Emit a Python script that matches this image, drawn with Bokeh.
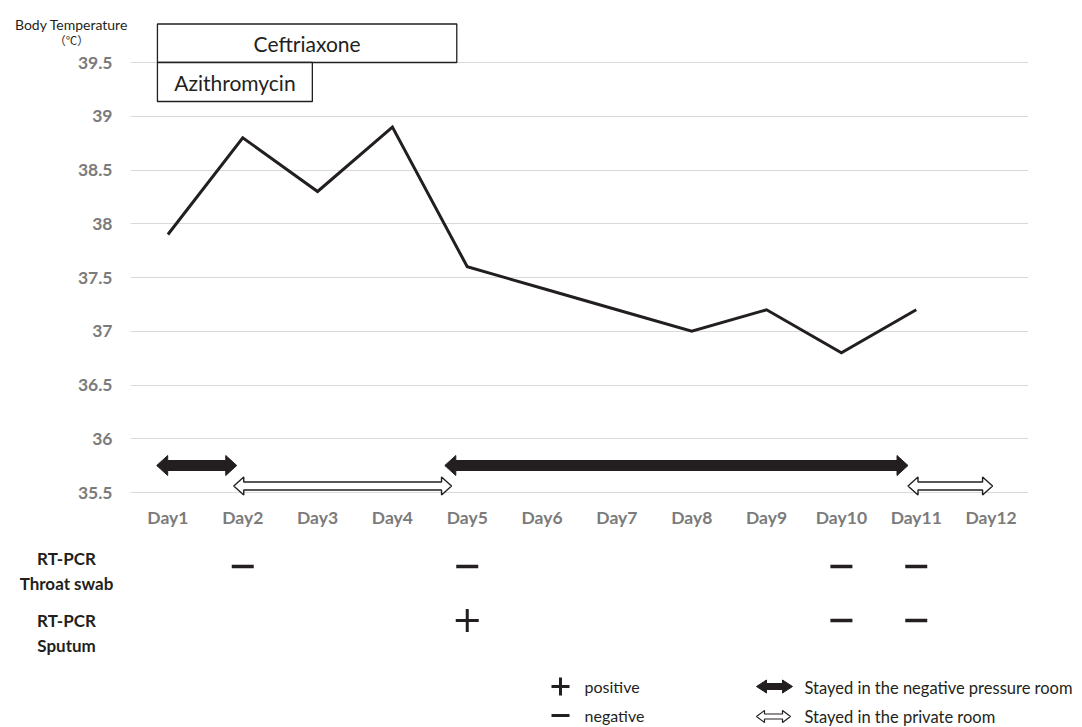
from bokeh.plotting import figure
from bokeh.models import Range1d, FixedTicker, Label
from bokeh.core.properties import value
from bokeh.embed import file_html
from bokeh.resources import INLINE

# ---------------- data ----------------
days = ["Day1", "Day2", "Day3", "Day4", "Day5", "Day6", "Day7", "Day8",
        "Day9", "Day10", "Day11", "Day12"]
temp_days = ["Day1", "Day2", "Day3", "Day4", "Day5", "Day6", "Day7", "Day8",
             "Day9", "Day10", "Day11"]
temperature = [37.9, 38.8, 38.3, 38.9, 37.6, 37.4, 37.2, 37.0, 37.2, 36.8, 37.2]

y_ticks = [35.5, 36.0, 36.5, 37.0, 37.5, 38.0, 38.5, 39.0, 39.5]
y_tick_labels = ["35.5", "36", "36.5", "37", "37.5", "38", "38.5", "39", "39.5"]
y_title = ["Body Temperature", "（℃）"]

drugs = ["Ceftriaxone", "Azithromycin"]
drug_start = [0.86, 0.86]          # in day units (Day1 = 1)
drug_end = [4.86, 2.93]

room_kind = ["negative", "private", "negative", "private"]
room_start = [0.85, 1.88, 4.70, 10.89]
room_end = [1.92, 4.79, 10.89, 12.02]

throat_days = ["Day2", "Day5", "Day10", "Day11"]
throat_result = ["-", "-", "-", "-"]
sputum_days = ["Day5", "Day10", "Day11"]
sputum_result = ["+", "-", "-"]

row_names = ["Throat swab", "Sputum"]
method = "RT-PCR"

legend_marks = ["+", "-"]
legend_mark_text = ["positive", "negative"]
legend_rooms = ["negative", "private"]
legend_room_text = ["Stayed in the negative pressure room", "Stayed in the private room"]

# ---------------- geometry ----------------
W = 1082
TOP_H = 546
BOT_H = 727 - TOP_H
FRAME_L = 130
FRAME_R = 54
FRAME_T = 18
FRAME_B = 48
PX_X = (W - FRAME_L - FRAME_R) / 12.0
PX_Y = 107.5
y_start = 35.5 - 6 / PX_Y
y_end = y_start + (TOP_H - FRAME_T - FRAME_B) / PX_Y

INK = "#231f20"
GREY = "#7b7b7b"
FONT = "Lato"


def dpos(d):
    return days.index(d) + 1


def px_to_temp(py):
    return 35.5 + (492 - py) / PX_Y


def px_to_day(px):
    return 0.5 + (px - FRAME_L) / PX_X


def arrow_poly(x0, x1, yc, sx, sy, hl, hh, bh):
    hx, hy, by = hl / sx, hh / sy, bh / sy
    xs = [x0, x0 + hx, x0 + hx, x1 - hx, x1 - hx, x1, x1 - hx, x1 - hx, x0 + hx, x0 + hx]
    ys = [yc, yc + hy, yc + by, yc + by, yc + hy, yc, yc - hy, yc - by, yc - by, yc - hy]
    return xs, ys


# ---------------- top figure ----------------
p = figure(width=W, height=TOP_H, x_range=Range1d(0.5, 12.5),
           y_range=Range1d(y_start, y_end), output_backend="svg",
           toolbar_location=None, min_border_left=FRAME_L, min_border_right=FRAME_R,
           min_border_top=FRAME_T, min_border_bottom=FRAME_B)
p.outline_line_color = None
p.background_fill_color = "white"

yt = FixedTicker(ticks=y_ticks)
p.yaxis.ticker = yt
p.ygrid.ticker = yt
p.yaxis.major_label_overrides = {t: l for t, l in zip(y_ticks, y_tick_labels)}
p.xaxis.ticker = FixedTicker(ticks=list(range(1, 13)))
p.xaxis.major_label_overrides = {i + 1: d for i, d in enumerate(days)}
p.xgrid.visible = False
p.ygrid.grid_line_color = "#d9d9d9"
p.ygrid.grid_line_width = 1
for ax in (p.xaxis, p.yaxis):
    ax.axis_line_color = None
    ax.major_tick_line_color = None
    ax.minor_tick_line_color = None
    ax.major_tick_out = 0
    ax.major_tick_in = 0
    ax.major_label_text_font = FONT
    ax.major_label_text_font_style = "bold"
    ax.major_label_text_font_size = "17.5px"
    ax.major_label_text_color = GREY
p.yaxis.major_label_standoff = 18
p.xaxis.major_label_standoff = 8

# temperature line
p.line([dpos(d) for d in temp_days], temperature, line_color=INK, line_width=3,
       line_join="miter")

# drug boxes
box_top = 39.5 + 38.5 / PX_Y
box_bot = 39.5 - 39 / PX_Y
p.quad(left=drug_start, right=drug_end, bottom=[39.5, box_bot], top=[box_top, 39.5],
       fill_color="white", line_color=INK, line_width=1.3)
p.text(x=[(a + b) / 2 for a, b in zip(drug_start, drug_end)],
       y=[(39.5 + box_top) / 2, (39.5 + box_bot) / 2], text=drugs,
       text_font=value(FONT), text_font_size="21px", text_color=INK,
       text_align="center", text_baseline="middle")

# room arrows
room_y = {"negative": 35.5 + 27 / PX_Y, "private": 35.5 + 6.5 / PX_Y}
for k, a, b in zip(room_kind, room_start, room_end):
    if k == "negative":
        xs, ys = arrow_poly(a, b, room_y[k], PX_X, PX_Y, 11, 10, 5)
        p.patch(xs, ys, fill_color=INK, line_color=INK, line_width=1)
    else:
        xs, ys = arrow_poly(a, b, room_y[k], PX_X, PX_Y, 10, 9, 4)
        p.patch(xs, ys, fill_color="white", line_color=INK, line_width=1.4)

# y-axis title (side-panel labels are not clipped to the frame)
p.add_layout(Label(x=px_to_day(71), y=px_to_temp(23.5), text=y_title[0],
                   text_font=FONT, text_font_size="14px", text_color=INK,
                   text_align="center", text_baseline="middle"), "above")
p.add_layout(Label(x=px_to_day(71), y=px_to_temp(39), text=y_title[1],
                   text_font="Noto Sans CJK JP", text_font_size="11.5px",
                   text_color=INK, text_align="center", text_baseline="middle"),
             "below")

# ---------------- bottom figure ----------------
bx0 = 0.5 - FRAME_L / PX_X
bx1 = bx0 + W / PX_X
p2 = figure(width=W, height=BOT_H, x_range=Range1d(bx0, bx1),
            y_range=Range1d(BOT_H, 0), output_backend="svg", toolbar_location=None,
            x_axis_type=None, y_axis_type=None, min_border=0)
p2.outline_line_color = None
p2.grid.visible = False


def bx(px):
    return bx0 + px / PX_X


def by(py):
    return py - TOP_H


row_y = [by(566), by(620)]
label_x = bx(66)
p2.text(x=[label_x] * 4,
        y=[row_y[0] - 8, row_y[0] + 17, row_y[1] + 0, row_y[1] + 25],
        text=[method, row_names[0], method, row_names[1]],
        text_font=value(FONT), text_font_style="bold", text_font_size="17px",
        text_color=INK, text_align="center", text_baseline="middle")

for rdays, rres, ry in ((throat_days, throat_result, row_y[0]),
                        (sputum_days, sputum_result, row_y[1])):
    for d, r in zip(rdays, rres):
        if r == "+":
            p2.scatter([dpos(d)], [ry], marker="cross", size=23, line_width=3,
                       line_color=INK)
        else:
            p2.scatter([dpos(d)], [ry], marker="dash", size=22, line_width=3.5,
                       line_color=INK)

# legend
leg_y = [by(686), by(715)]
for m, t, ly in zip(legend_marks, legend_mark_text, leg_y):
    p2.scatter([bx(560)], [ly], marker="cross" if m == "+" else "dash", size=18,
               line_width=3, line_color=INK)
    p2.text(x=[bx(584)], y=[ly], text=[t], text_font=value(FONT),
            text_font_size="16px", text_color=INK, text_align="left",
            text_baseline="middle")
for k, t, ly in zip(legend_rooms, legend_room_text, leg_y):
    if k == "negative":
        xs, ys = arrow_poly(bx(756), bx(792), ly, PX_X, 1, 10, 6.5, 3)
        p2.patch(xs, ys, fill_color=INK, line_color=INK, line_width=1)
    else:
        xs, ys = arrow_poly(bx(756), bx(790), ly + 1, PX_X, 1, 8, 6, 2.5)
        p2.patch(xs, ys, fill_color="white", line_color=INK, line_width=1.2)
    p2.text(x=[bx(804)], y=[ly + 1], text=[t], text_font=value(FONT),
            text_font_size="16.5px", text_color=INK, text_align="left",
            text_baseline="middle")

open("out.html", "w").write(file_html([p, p2], INLINE))
